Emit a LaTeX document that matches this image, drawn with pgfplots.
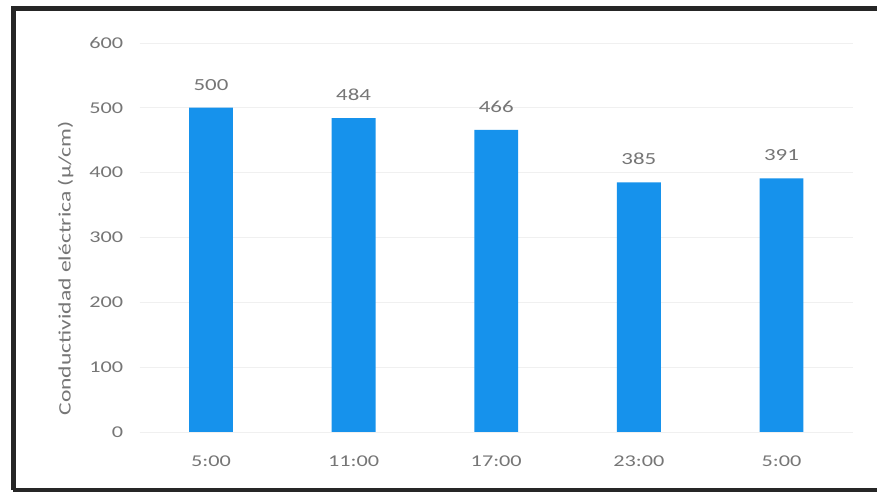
\documentclass[border=0pt]{standalone}
\usepackage{pgfplots}
\pgfplotsset{compat=1.18}
\usepackage{fontspec}
\setmainfont{Carlito}[FakeStretch=1.35]
\definecolor{barblue}{RGB}{22,146,236}
\definecolor{txtgray}{RGB}{118,118,118}
\begin{document}
\begin{tikzpicture}[x=1pt,y=1pt]
% page background and outer frame
\fill[white] (0,0) rectangle (879,494);
\draw[line width=4.5pt,black!85] (13.5,2.5) -- (13.5,485.5) -- (879,485.5);
\draw[line width=4.5pt,black!85] (13.5,2.5) -- (879,2.5);
\begin{axis}[
  at={(140pt,61pt)}, anchor=south west,
  scale only axis, width=715pt, height=390pt,
  xmin=-0.5, xmax=4.5, ymin=0, ymax=600,
  ytick={0,100,...,600},
  xtick=data,
  xticklabels={5:00,11:00,17:00,23:00,5:00},
  axis line style={draw=none},
  major tick length=0pt,
  ymajorgrids, grid style={gray!12, line width=0.6pt},
  tick label style={font=\fontsize{16.5}{19}\selectfont, text=txtgray},
  /pgf/number format/assume math mode=true,
  yticklabel style={xshift=-13pt},
  xticklabel style={yshift=-20pt},
  ylabel={Conductividad eléctrica (µ/cm)},
  ylabel style={font=\fontsize{17.5}{20}\selectfont, text=txtgray, xshift=-31pt, yshift=9pt},
  nodes near coords,
  every node near coord/.append style={font=\fontsize{17}{20}\selectfont, text=txtgray, yshift=14pt},
]
\addplot[ybar, bar width=44pt, fill=barblue, draw=none] coordinates {
  (0,500) (1,484) (2,466) (3,385) (4,391)
};
\end{axis}
\end{tikzpicture}
\end{document}
